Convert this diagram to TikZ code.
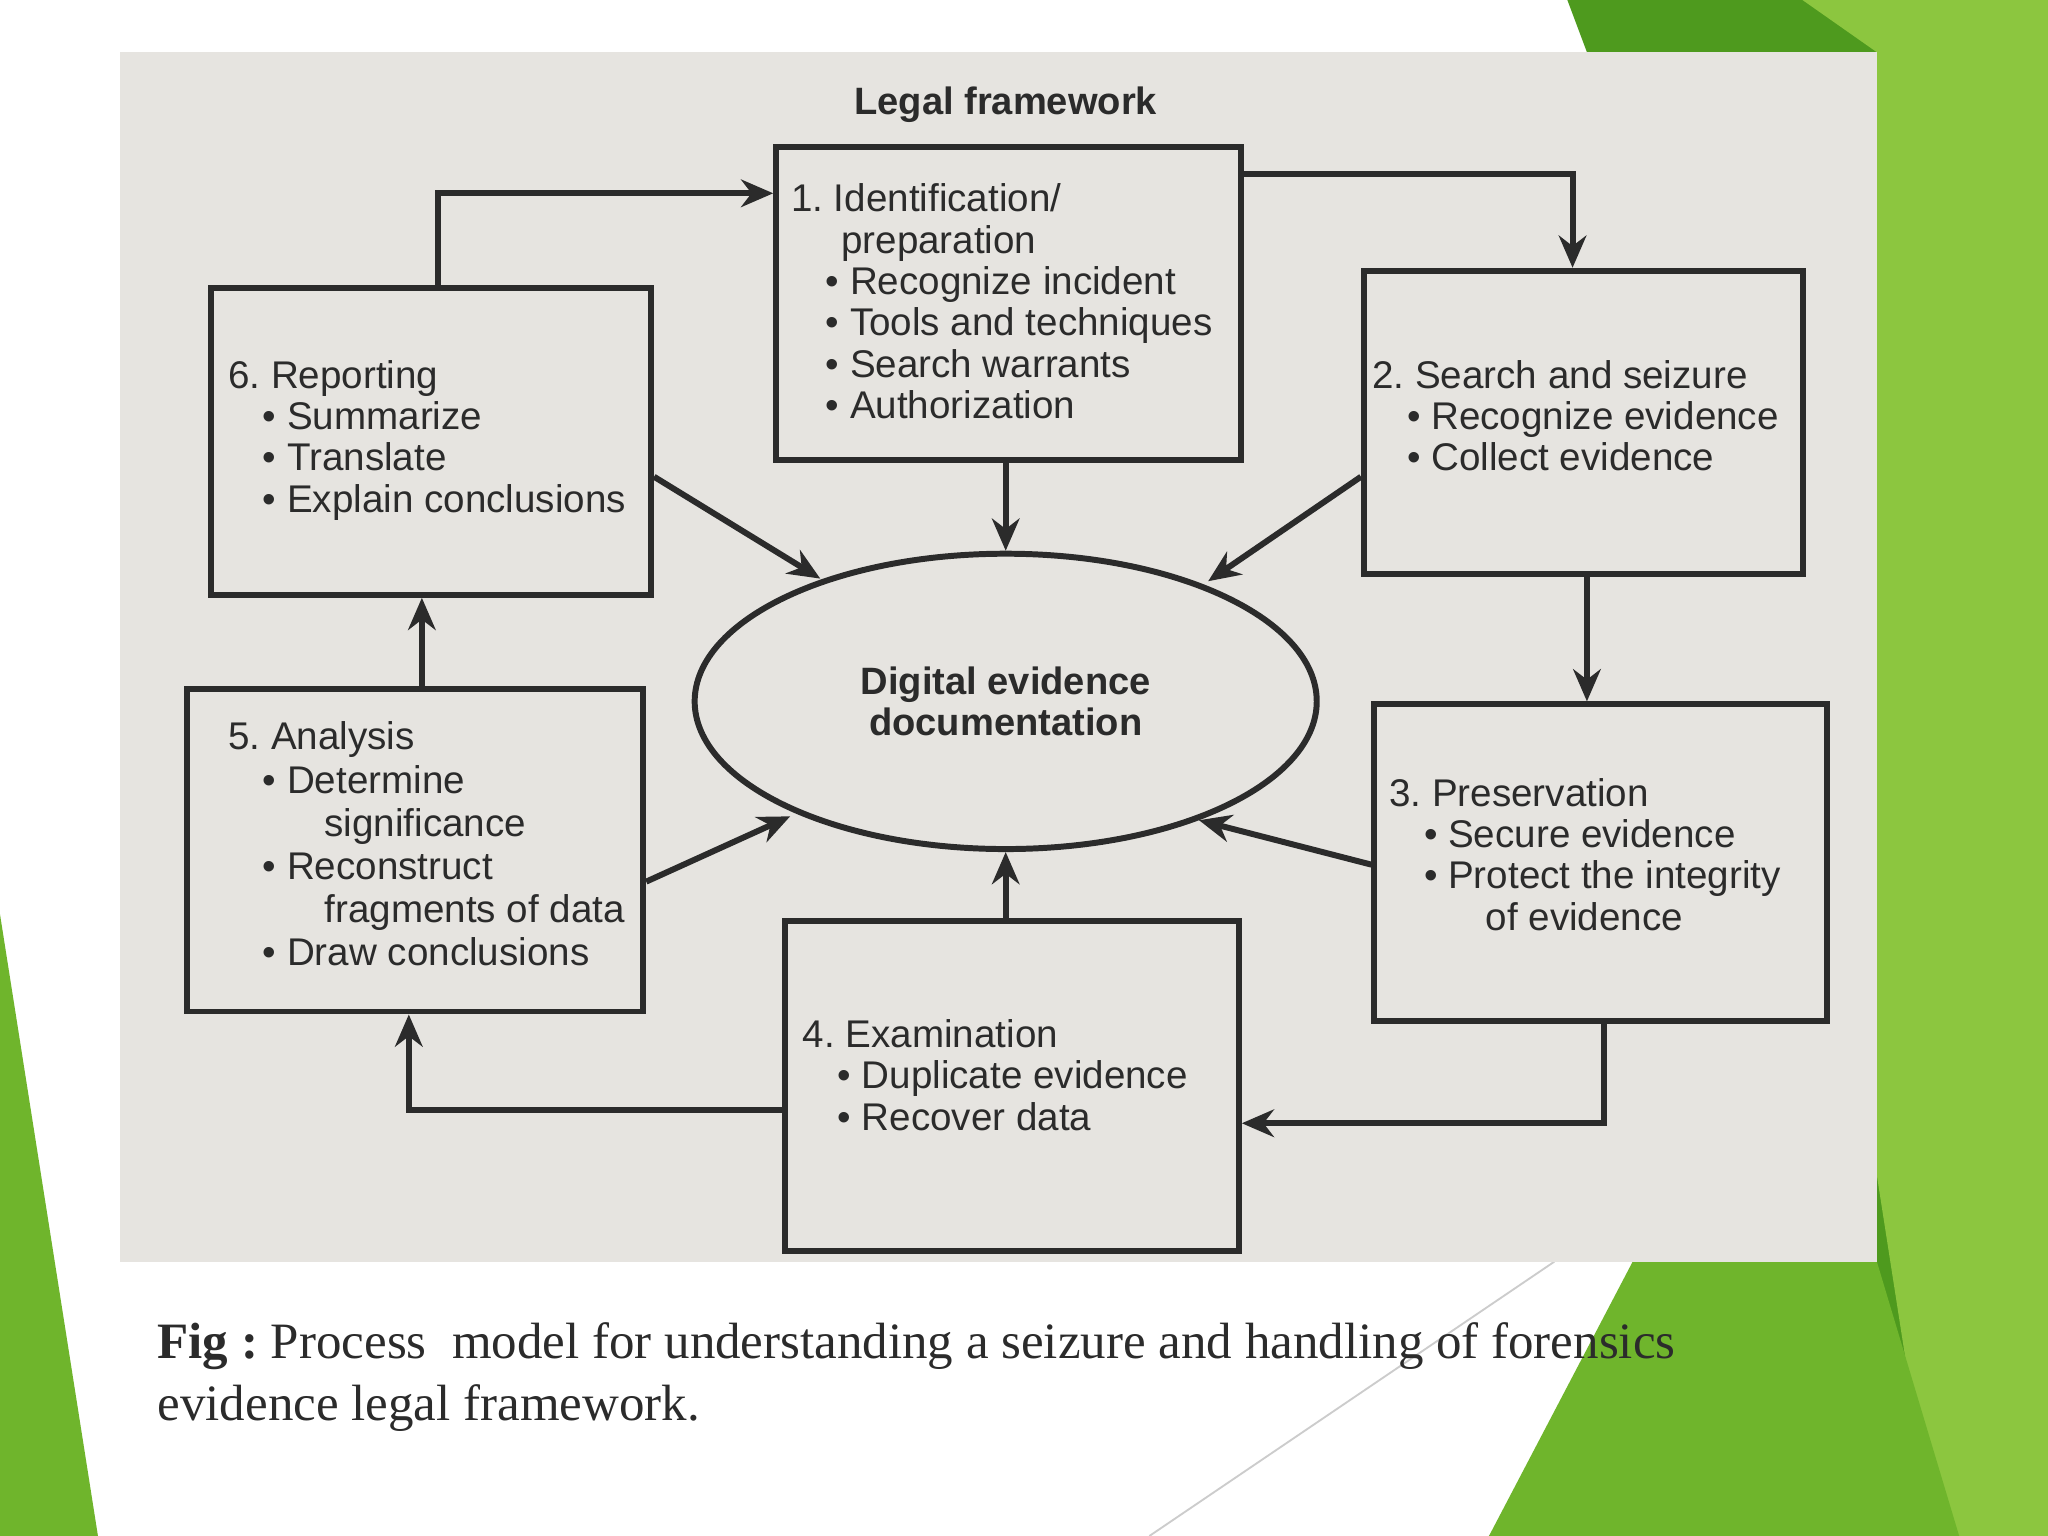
\documentclass[tikz,border=0pt]{standalone}
\usepackage{fontspec}
\setmainfont{Liberation Sans}
\newfontfamily\capfont{Liberation Serif}
\usetikzlibrary{arrows.meta,shapes.geometric}
\definecolor{paper}{HTML}{E6E4E0}
\definecolor{ink}{HTML}{2B2B2B}
\definecolor{gA}{HTML}{6FB52C}
\definecolor{gB}{HTML}{8CC63F}
\definecolor{gC}{HTML}{4E9A1E}
\newcommand{\bl}[1]{\hspace*{0.9em}\textbullet\ #1}
\newcommand{\bk}[1]{\hspace*{1.3em}#1}
\frenchspacing
\begin{document}
\begin{tikzpicture}[x=0.01cm,y=-0.01cm,
  box/.style={draw=ink,line width=1.3pt,anchor=north west,inner sep=0pt},
  txt/.style={anchor=north west,align=left,inner sep=0pt,text=ink,font=\fontsize{8.4}{9}\selectfont},
  arr/.style={draw=ink,line width=1.3pt,-{Stealth[length=7pt,width=6pt]}}]
\fill[white] (0,0) rectangle (1568,1176);
\useasboundingbox (0,0) rectangle (1568,1176);
% green decorations
\fill[gC] (1200,0) -- (1568,0) -- (1568,1176) -- (1140,1176) -- (1300,960) -- (1437,700) -- (1437,40) -- (1215,40) -- cycle;
\fill[gB] (1380,0) -- (1568,0) -- (1568,1176) -- (1480,1176) -- (1437,900) -- (1437,40) -- cycle;
\fill[gA] (1250,966) -- (1437,966) -- (1500,1176) -- (1140,1176) -- cycle;
\fill[gA] (0,700) -- (75,1176) -- (0,1176) -- cycle;
\draw[gray!40] (880,1176) -- (1190,966);
% photo
\fill[paper] (92,40) rectangle (1437,966);
\node[font=\bfseries\fontsize{8.3}{9}\selectfont,text=ink] (title) at (770,80) {Legal framework};
% boxes
\node[box,minimum width=3.56cm,minimum height=2.40cm] (b1) at (592,110) {};
\node[box,minimum width=3.36cm,minimum height=2.32cm] (b2) at (1042,205) {};
\node[box,minimum width=3.46cm,minimum height=2.42cm] (b3) at (1050,537) {};
\node[box,minimum width=3.47cm,minimum height=2.52cm] (b4) at (599,703) {};
\node[box,minimum width=3.49cm,minimum height=2.47cm] (b5) at (141,525) {};
\node[box,minimum width=3.37cm,minimum height=2.35cm] (b6) at (159,218) {};
\node[draw=ink,line width=1.3pt,ellipse,inner sep=0pt,minimum width=4.76cm,minimum height=2.26cm] (el) at (770,537) {};
\node[text=ink,font=\bfseries\fontsize{8.3}{9}\selectfont,align=center] (elt) at (770,537) {Digital evidence\\documentation};
% texts
\node[txt] (t1) at (605,140) {1. Identification/\\\bk{preparation}\\\bl{Recognize incident}\\\bl{Tools and techniques}\\\bl{Search warrants}\\\bl{Authorization}};
\node[txt] (t2) at (1050,275) {2. Search and seizure\\\bl{Recognize evidence}\\\bl{Collect evidence}};
\node[txt] (t3) at (1063,595) {3. Preservation\\\bl{Secure evidence}\\\bl{Protect the integrity}\\\hspace*{2.5em}of evidence};
\node[txt] (t4) at (614,780) {4. Examination\\\bl{Duplicate evidence}\\\bl{Recover data}};
\node[txt,font=\fontsize{8.4}{9.4}\selectfont] (t5) at (174,552) {5. Analysis\\\bl{Determine}\\\hspace*{2.5em}significance\\\bl{Reconstruct}\\\hspace*{2.5em}fragments of data\\\bl{Draw conclusions}};
\node[txt] (t6) at (174,275) {6. Reporting\\\bl{Summarize}\\\bl{Translate}\\\bl{Explain conclusions}};
% cycle arrows
\draw[arr] (b6.north -| 335,0) |- (b1.west |- 0,148);
\draw[arr] (b1.east |- 0,133) -| (b2.north -| 1204,0);
\draw[arr] (b2.south -| 1215,0) -- (b3.north -| 1215,0);
\draw[arr] (b3.south -| 1228,0) |- (b4.east |- 0,860);
\draw[arr] (b4.west |- 0,850) -| (b5.south -| 313,0);
\draw[arr] (b5.north -| 323,0) -- (b6.south -| 323,0);
% to ellipse
\draw[arr] (el.north |- b1.south) -- (el.north);
\draw[arr] (b6.east |- 0,365) -- (628,443);
\draw[arr] (b2.west |- 0,365) -- (925,445);
\draw[arr] (b5.east |- 0,675) -- (605,625);
\draw[arr] (b3.west |- 0,662) -- (918,628);
\draw[arr] (el.south |- b4.north) -- (el.south);
% caption
\node[anchor=north west,align=left,inner sep=0pt,text=ink,font=\capfont\fontsize{11.1}{13.4}\selectfont] (cap) at (120,1012) {\textbf{Fig :} Process\ \ model for understanding a seizure and handling of forensics\\evidence legal framework.};
\end{tikzpicture}
\end{document}
